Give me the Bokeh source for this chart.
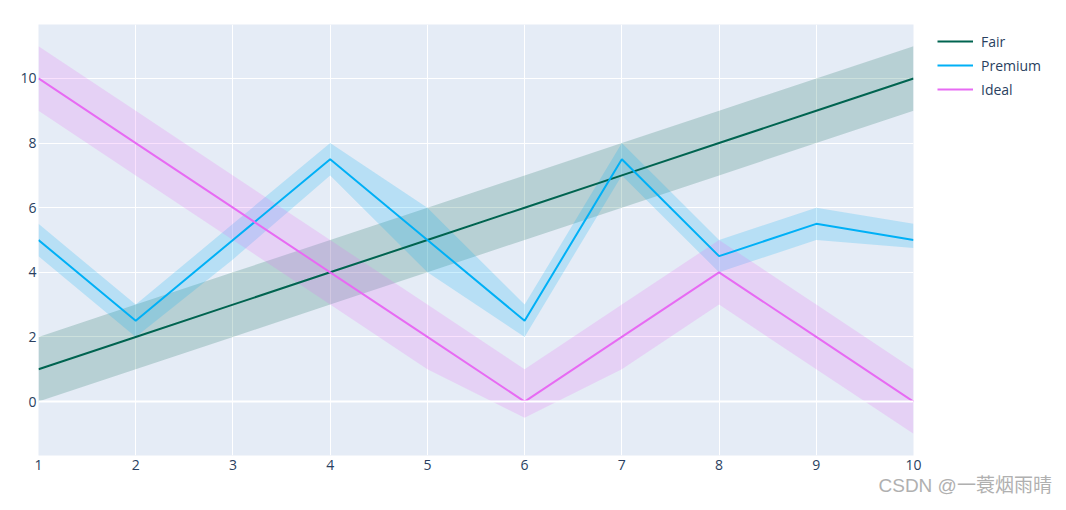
from bokeh.plotting import figure
from bokeh.models import Legend, LegendItem, Title, Range1d, FixedTicker, Span
from bokeh.embed import file_html
from bokeh.resources import INLINE

x = [1, 2, 3, 4, 5, 6, 7, 8, 9, 10]

fair = [1, 2, 3, 4, 5, 6, 7, 8, 9, 10]
fair_upper = [2, 3, 4, 5, 6, 7, 8, 9, 10, 11]
fair_lower = [0, 1, 2, 3, 4, 5, 6, 7, 8, 9]

premium = [5, 2.5, 5, 7.5, 5, 2.5, 7.5, 4.5, 5.5, 5]
premium_upper = [5.5, 3, 5.5, 8, 6, 3, 8, 5, 6, 5.5]
premium_lower = [4.5, 2, 4.4, 7, 4, 2, 7, 4, 5, 4.75]

ideal = [10, 8, 6, 4, 2, 0, 2, 4, 2, 0]
ideal_upper = [11, 9, 7, 5, 3, 1, 3, 5, 3, 1]
ideal_lower = [9, 7, 5, 3, 1, -0.5, 1, 3, 1, -1]

names = ["Fair", "Premium", "Ideal"]
line_colors = ["rgb(0,100,80)", "rgb(0,176,246)", "rgb(231,107,243)"]
fill_colors = ["rgba(0,100,80,0.2)", "rgba(0,176,246,0.2)", "rgba(231,107,243,0.2)"]

FONT = "Open Sans"
TXT = "#2a3f5f"

p = figure(frame_width=875, frame_height=431, output_backend="svg", toolbar_location=None,
           x_range=Range1d(1, 10), y_range=Range1d(-1.67, 11.67),
           min_border_left=38, min_border_right=153, min_border_top=24, min_border_bottom=55)
p.background_fill_color = "#E5ECF6"
p.border_fill_color = "white"
p.outline_line_color = None

for ax in (p.xaxis[0], p.yaxis[0]):
    ax.axis_line_color = None
    ax.major_tick_line_color = None
    ax.minor_tick_line_color = None
    ax.major_tick_out = 0
    ax.major_tick_in = 0
    ax.minor_tick_out = 0
    ax.major_label_text_font = FONT
    ax.major_label_text_font_size = "14px"
    ax.major_label_text_color = TXT
p.xaxis.ticker = FixedTicker(ticks=x)
p.yaxis.ticker = FixedTicker(ticks=[0, 2, 4, 6, 8, 10])
p.xaxis.major_label_standoff = 4
p.yaxis.major_label_standoff = 2
p.xgrid.grid_line_color = "white"
p.ygrid.grid_line_color = "white"
p.add_layout(Span(location=0, dimension="width", line_color="white", line_width=2))

series = [
    (fair, fair_upper, fair_lower),
    (premium, premium_upper, premium_lower),
    (ideal, ideal_upper, ideal_lower),
]

items = []
for (y, up, lo), fc in zip(series, fill_colors):
    p.patch(x + x[::-1], up + lo[::-1], fill_color=fc, line_color=None)
for (y, up, lo), lc, nm in zip(series, line_colors, names):
    r = p.line(x, y, line_color=lc, line_width=2)
    items.append(LegendItem(label=nm, renderers=[r]))

legend = Legend(items=items, location=(24, 356), orientation="vertical",
                glyph_width=36, glyph_height=20, spacing=4, padding=0, margin=0,
                label_text_font=FONT, label_text_font_size="14px", label_text_color=TXT,
                label_standoff=8, border_line_color=None, background_fill_alpha=0)
p.add_layout(legend, "right")

wm = Title(text="CSDN @一蓑烟雨晴", align="left", offset=840, standoff=0,
           text_font="'Liberation Sans', 'Noto Sans CJK SC'", text_font_size="19px",
           text_color="#b0b0b0", text_font_style="normal")
p.add_layout(wm, "below")

open("out.html", "w").write(file_html(p, INLINE))
